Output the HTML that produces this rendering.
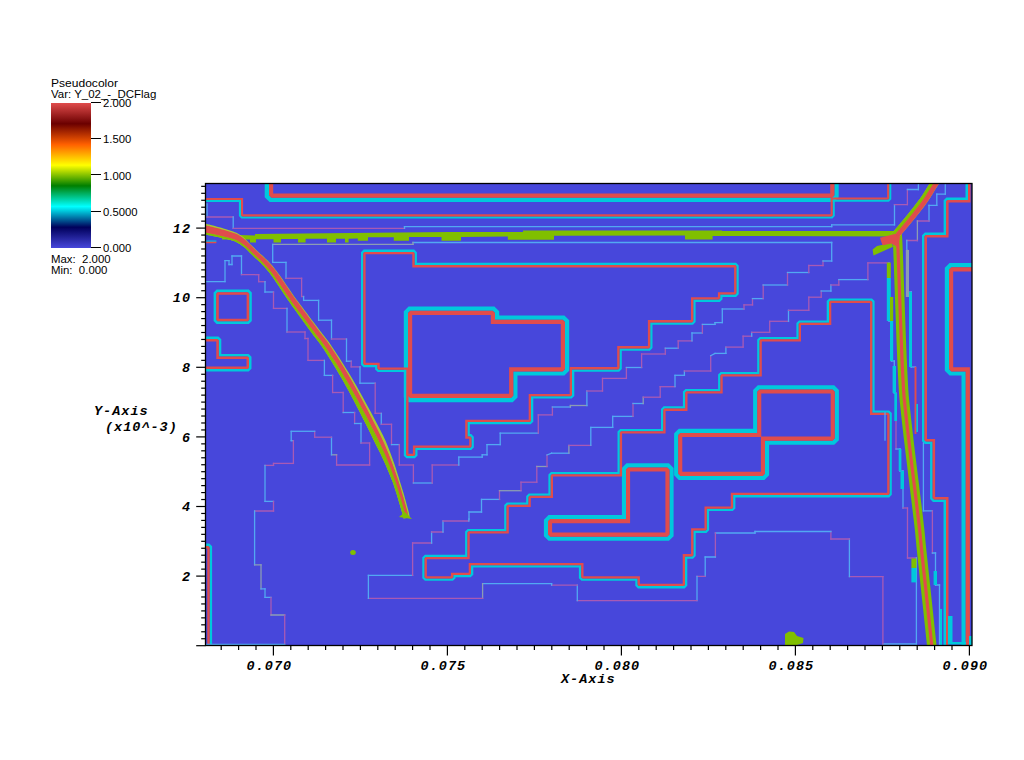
<!DOCTYPE html>
<html><head><meta charset="utf-8"><style>
html,body{margin:0;padding:0;background:#fff;}
body{width:1024px;height:760px;position:relative;overflow:hidden;}
.t{position:absolute;transform-origin:0 0;font-family:"Liberation Sans",sans-serif;font-size:10px;line-height:12px;color:#000;white-space:pre;}
.cbl{position:absolute;left:103.2px;transform-origin:0 0;transform:scaleX(1.13);font-family:"Liberation Sans",sans-serif;font-size:10px;line-height:12px;color:#000;white-space:pre;}
.cbt{position:absolute;left:90.7px;width:10px;height:1.2px;background:#000;}
.m{position:absolute;font-family:"Liberation Mono",monospace;font-weight:bold;font-style:italic;font-size:13.5px;letter-spacing:1.0px;line-height:16px;color:#000;white-space:pre;}
.yl{position:absolute;right:833px;font-family:"Liberation Mono",monospace;font-weight:bold;font-style:italic;font-size:13.5px;letter-spacing:1.0px;line-height:16px;color:#000;}
.xl{position:absolute;top:659px;font-family:"Liberation Mono",monospace;font-weight:bold;font-style:italic;font-size:13.5px;letter-spacing:1.0px;line-height:16px;color:#000;}
#cb{position:absolute;left:51px;top:103px;width:40px;height:145px;
background:linear-gradient(to top,rgb(71,71,219) 0%,rgb(0,0,91) 14.3%,rgb(0,255,255) 28.6%,rgb(0,127,0) 42.9%,rgb(255,255,0) 57.1%,rgb(255,96,0) 71.4%,rgb(107,0,0) 85.7%,rgb(224,76,76) 100%);}
svg{position:absolute;left:0;top:0;}
</style></head><body>
<div class="t" style="left:51px;top:77.6px;transform:scaleX(1.205)">Pseudocolor</div>
<div class="t" style="left:51px;top:89.1px;transform:scaleX(1.146)">Var: Y_02_-_DCFlag</div>
<div id="cb"></div>
<div class="cbl" style="top:97.8px">2.000</div><div class="cbt" style="top:101.6px"></div><div class="cbl" style="top:134.1px">1.500</div><div class="cbt" style="top:137.9px"></div><div class="cbl" style="top:170.5px">1.000</div><div class="cbt" style="top:174.3px"></div><div class="cbl" style="top:206.8px">0.5000</div><div class="cbt" style="top:210.6px"></div><div class="cbl" style="top:243.1px">0.000</div><div class="cbt" style="top:246.9px"></div>
<div class="t" style="left:51px;top:254px;transform:scaleX(1.14)">Max:  2.000</div>
<div class="t" style="left:51px;top:264.6px;transform:scaleX(1.14)">Min:  0.000</div>
<div class="yl" style="top:221.8px">12</div><div class="yl" style="top:291.3px">10</div><div class="yl" style="top:360.9px">8</div><div class="yl" style="top:430.5px">6</div><div class="yl" style="top:500.1px">4</div><div class="yl" style="top:569.8px">2</div><div class="xl" style="left:246.6px">0.070</div><div class="xl" style="left:420.6px">0.075</div><div class="xl" style="left:594.6px">0.080</div><div class="xl" style="left:768.6px">0.085</div><div class="xl" style="left:942.6px">0.090</div>
<div class="m" style="left:94px;top:403.7px">Y-Axis</div>
<div class="m" style="left:105px;top:420px">(x10^-3)</div>
<div class="m" style="left:561px;top:672px">X-Axis</div>
<svg width="1024" height="760">
<defs><clipPath id="pc"><rect x="205.5" y="183.5" width="766.5" height="462"/></clipPath></defs>
<g clip-path="url(#pc)">
<rect x="205" y="183" width="768" height="463" fill="#4747db"/>
<g fill="none" stroke-linecap="butt" stroke-linejoin="miter">
<path d="M222.00,234.50 L255.00,235.50 L255.00,234.00 L400.00,232.50 L450.00,232.00 L523.00,232.00 L523.00,230.50 L722.00,230.50 L722.00,231.00 L895.00,231.00 L895.00,236.40 L722.00,236.00 L712.60,236.00 L712.60,239.50 L685.00,239.50 L685.00,235.60 L554.00,235.80 L554.00,239.80 L507.80,239.80 L507.80,236.50 L461.00,237.00 L461.00,240.70 L441.50,240.70 L441.50,237.00 L409.00,237.00 L409.00,240.70 L393.80,240.70 L393.80,237.20 L368.00,237.20 L368.00,240.70 L357.80,240.70 L357.80,238.50 L348.60,238.70 L348.60,242.50 L345.00,242.50 L345.00,238.70 L336.00,238.70 L336.00,242.50 L327.00,242.50 L327.00,238.80 L305.60,238.80 L305.60,242.50 L298.00,242.50 L298.00,238.90 L281.00,239.00 L281.00,242.50 L273.50,242.50 L273.50,239.20 L256.00,239.30 L256.00,242.60 L250.00,242.60 L250.00,239.50 L222.00,239.50Z" fill="#80bf00" stroke="none"/>
<path d="M266.85,170.00 L266.85,196.25 L270.45,199.85 L832.95,199.85 L836.55,196.25 L836.55,170.00" stroke="#00c8dc" stroke-width="4.30"/>
<path d="M271.10,170.00 L271.10,194.49 L272.21,195.60 L831.19,195.60 L832.30,194.49 L832.30,170.00" stroke="#e04c4c" stroke-width="4.20"/>
<path d="M190.00,201.05 L239.95,201.05 L239.95,215.68 L241.72,217.45 L831.98,217.45 L833.75,215.68 L833.75,200.65 L888.48,200.65 L890.25,198.88 L890.25,170.00" stroke="#00c8dc" stroke-width="2.10"/>
<path d="M190.00,198.95 L242.05,198.95 L242.05,214.81 L242.59,215.35 L831.11,215.35 L831.65,214.81 L831.65,198.55 L887.61,198.55 L888.15,198.01 L888.15,170.00" stroke="#e04c4c" stroke-width="2.10"/>
<path d="M214.90,293.09 L217.09,290.90 L248.31,290.90 L250.50,293.09 L250.50,320.41 L248.31,322.60 L217.09,322.60 L214.90,320.41Z" stroke="#00c8dc" stroke-width="2.60"/>
<path d="M217.50,294.17 L218.17,293.50 L247.23,293.50 L247.90,294.17 L247.90,319.33 L247.23,320.00 L218.17,320.00 L217.50,319.33Z" stroke="#e04c4c" stroke-width="2.60"/>
<path d="M190.00,337.75 L217.94,337.75 L220.05,339.86 L220.05,355.25 L248.14,355.25 L250.25,357.36 L250.25,368.14 L248.14,370.25 L190.00,370.25" stroke="#00c8dc" stroke-width="2.50"/>
<path d="M190.00,340.25 L216.91,340.25 L217.55,340.89 L217.55,357.75 L247.11,357.75 L247.75,358.39 L247.75,367.11 L247.11,367.75 L190.00,367.75" stroke="#e04c4c" stroke-width="2.50"/>
<path d="M190.00,544.80 L208.88,544.80 L210.90,546.82 L210.90,660.00" stroke="#00c8dc" stroke-width="2.40"/>
<path d="M190.00,547.20 L207.88,547.20 L208.50,547.82 L208.50,660.00" stroke="#e04c4c" stroke-width="2.40"/>
<path d="M405.90,312.14 L409.44,308.60 L493.56,308.60 L497.10,312.14 L497.10,317.60 L563.56,317.60 L567.10,321.14 L567.10,369.96 L563.56,373.50 L515.40,373.50 L515.40,396.56 L511.86,400.10 L409.44,400.10 L405.90,396.56Z" stroke="#00c8dc" stroke-width="4.20"/>
<path d="M410.10,313.88 L411.18,312.80 L491.82,312.80 L492.90,313.88 L492.90,321.80 L561.82,321.80 L562.90,322.88 L562.90,368.22 L561.82,369.30 L511.20,369.30 L511.20,394.82 L510.12,395.90 L411.18,395.90 L410.10,394.82Z" stroke="#e04c4c" stroke-width="4.20"/>
<path d="M415.75,252.69 L413.81,250.75 L364.09,250.75 L362.15,252.69 L362.15,364.21 L364.09,366.15 L376.25,366.15 L376.25,369.01 L378.19,370.95 L405.15,370.95 L404.95,455.21 L406.89,457.15 L414.41,457.15 L416.35,455.21 L416.35,448.95 L470.71,448.95 L472.65,447.01 L472.65,437.19 L470.71,435.25 L468.65,435.25 L468.65,423.15 L530.21,423.15 L532.15,421.21 L532.15,397.35 L571.21,397.35 L573.15,395.41 L573.15,370.55 L618.71,370.55 L620.65,368.61 L620.65,349.55 L649.41,349.55 L651.35,347.61 L651.35,323.55 L692.51,323.55 L694.45,321.61 L694.45,300.75 L719.41,300.75 L721.35,298.81 L721.35,295.75 L735.61,295.75 L737.55,293.81 L737.55,265.89 L735.61,263.95 L415.75,263.95Z" stroke="#00c8dc" stroke-width="2.30"/>
<path d="M413.45,253.64 L412.86,253.05 L365.04,253.05 L364.45,253.64 L364.45,363.26 L365.04,363.85 L378.55,363.85 L378.55,368.06 L379.14,368.65 L407.45,368.65 L407.25,454.26 L407.84,454.85 L413.46,454.85 L414.05,454.26 L414.05,446.65 L469.76,446.65 L470.35,446.06 L470.35,438.14 L469.76,437.55 L466.35,437.55 L466.35,420.85 L529.26,420.85 L529.85,420.26 L529.85,395.05 L570.26,395.05 L570.85,394.46 L570.85,368.25 L617.76,368.25 L618.35,367.66 L618.35,347.25 L648.46,347.25 L649.05,346.66 L649.05,321.25 L691.56,321.25 L692.15,320.66 L692.15,298.45 L718.46,298.45 L719.05,297.86 L719.05,293.45 L734.66,293.45 L735.25,292.86 L735.25,266.84 L734.66,266.25 L413.45,266.25Z" stroke="#e04c4c" stroke-width="2.30"/>
<path d="M623.95,468.81 L627.41,465.35 L668.09,465.35 L671.55,468.81 L671.55,535.29 L668.09,538.75 L549.41,538.75 L545.95,535.29 L545.95,520.51 L549.41,517.05 L623.95,517.05Z" stroke="#00c8dc" stroke-width="4.10"/>
<path d="M628.05,470.50 L629.10,469.45 L666.40,469.45 L667.45,470.50 L667.45,533.60 L666.40,534.65 L551.10,534.65 L550.05,533.60 L550.05,522.20 L551.10,521.15 L628.05,521.15Z" stroke="#e04c4c" stroke-width="4.10"/>
<path d="M676.15,434.31 L679.61,430.85 L755.15,430.85 L755.15,390.81 L758.61,387.35 L833.39,387.35 L836.85,390.81 L836.85,439.29 L833.39,442.75 L767.05,442.75 L767.05,474.49 L763.59,477.95 L679.61,477.95 L676.15,474.49Z" stroke="#00c8dc" stroke-width="4.10"/>
<path d="M680.25,436.00 L681.30,434.95 L759.25,434.95 L759.25,392.50 L760.30,391.45 L831.70,391.45 L832.75,392.50 L832.75,437.60 L831.70,438.65 L762.95,438.65 L762.95,472.80 L761.90,473.85 L681.30,473.85 L680.25,472.80Z" stroke="#e04c4c" stroke-width="4.10"/>
<path d="M423.45,557.79 L425.39,555.85 L466.25,555.85 L466.25,531.99 L468.19,530.05 L505.35,530.05 L505.35,505.59 L507.29,503.65 L527.35,503.65 L527.35,496.59 L529.29,494.65 L549.55,494.65 L549.55,474.99 L551.49,473.05 L618.65,473.05 L618.65,432.09 L620.59,430.15 L662.15,430.15 L662.15,409.39 L664.09,407.45 L684.05,407.45 L684.05,392.09 L685.99,390.15 L719.25,390.15 L719.25,374.99 L721.19,373.05 L758.35,373.05 L758.35,340.09 L760.29,338.15 L797.55,338.15 L797.55,323.49 L799.49,321.55 L827.85,321.55 L827.85,301.59 L829.79,299.65 L871.51,299.65 L873.45,301.59 L873.45,411.65 L888.71,411.65 L890.65,413.59 L890.65,494.31 L888.71,496.25 L734.25,496.25 L734.25,508.01 L732.31,509.95 L707.95,509.95 L707.95,529.81 L706.01,531.75 L694.55,531.75 L694.55,555.61 L692.61,557.55 L686.15,557.55 L686.15,585.31 L684.21,587.25 L638.39,587.25 L636.45,585.31 L636.45,579.65 L581.99,579.65 L580.05,577.71 L580.05,566.35 L472.15,566.35 L472.15,574.21 L470.21,576.15 L454.45,576.15 L454.45,577.71 L452.51,579.65 L425.39,579.65 L423.45,577.71Z" stroke="#00c8dc" stroke-width="2.30"/>
<path d="M425.75,558.74 L426.34,558.15 L468.55,558.15 L468.55,532.94 L469.14,532.35 L507.65,532.35 L507.65,506.54 L508.24,505.95 L529.65,505.95 L529.65,497.54 L530.24,496.95 L551.85,496.95 L551.85,475.94 L552.44,475.35 L620.95,475.35 L620.95,433.04 L621.54,432.45 L664.45,432.45 L664.45,410.34 L665.04,409.75 L686.35,409.75 L686.35,393.04 L686.94,392.45 L721.55,392.45 L721.55,375.94 L722.14,375.35 L760.65,375.35 L760.65,341.04 L761.24,340.45 L799.85,340.45 L799.85,324.44 L800.44,323.85 L830.15,323.85 L830.15,302.54 L830.74,301.95 L870.56,301.95 L871.15,302.54 L871.15,413.95 L887.76,413.95 L888.35,414.54 L888.35,493.36 L887.76,493.95 L731.95,493.95 L731.95,507.06 L731.36,507.65 L705.65,507.65 L705.65,528.86 L705.06,529.45 L692.25,529.45 L692.25,554.66 L691.66,555.25 L683.85,555.25 L683.85,584.36 L683.26,584.95 L639.34,584.95 L638.75,584.36 L638.75,577.35 L582.94,577.35 L582.35,576.76 L582.35,564.05 L469.85,564.05 L469.85,573.26 L469.26,573.85 L452.15,573.85 L452.15,576.76 L451.56,577.35 L426.34,577.35 L425.75,576.76Z" stroke="#e04c4c" stroke-width="2.30"/>
<path d="M966.75,170.00 L966.75,198.75 L946.96,198.75 L944.85,200.86 L944.85,233.75 L925.36,233.75 L923.25,235.86 L923.25,440.64 L925.36,442.75 L931.35,442.75 L931.35,498.54 L933.46,500.65 L944.75,500.65 L944.75,660.00" stroke="#00c8dc" stroke-width="2.50"/>
<path d="M969.25,170.00 L969.25,201.25 L947.99,201.25 L947.35,201.89 L947.35,236.25 L926.39,236.25 L925.75,236.89 L925.75,439.61 L926.39,440.25 L933.85,440.25 L933.85,497.51 L934.49,498.15 L947.25,498.15 L947.25,660.00" stroke="#e04c4c" stroke-width="2.50"/>
<path d="M990.00,265.20 L950.44,265.20 L946.90,268.74 L946.90,369.96 L950.44,373.50 L963.60,373.50 L963.60,660.00" stroke="#00c8dc" stroke-width="4.20"/>
<path d="M990.00,269.40 L952.18,269.40 L951.10,270.48 L951.10,368.22 L952.18,369.30 L967.80,369.30 L967.80,660.00" stroke="#e04c4c" stroke-width="4.20"/>
<path d="M190.00,241.10 L216.40,241.10" stroke="#00c8dc" stroke-width="1.40"/>
<path d="M190.00,242.50 L216.40,242.50" stroke="#e04c4c" stroke-width="1.40"/>
<path d="M207.00,203.35 L207.00,217.65" stroke="#52a8f2" stroke-width="1.30"/>
<path d="M206.35,217.00 L233.85,217.00" stroke="#a85ab4" stroke-width="1.30"/>
<path d="M233.20,216.35 L233.20,229.05" stroke="#52a8f2" stroke-width="1.30"/>
<path d="M232.55,228.40 L405.15,228.40" stroke="#a85ab4" stroke-width="1.30"/>
<path d="M404.50,229.05 L404.50,225.95" stroke="#52a8f2" stroke-width="1.30"/>
<path d="M403.85,226.60 L832.35,226.60" stroke="#52a8f2" stroke-width="1.30"/>
<path d="M831.70,227.25 L831.70,224.15" stroke="#52a8f2" stroke-width="1.30"/>
<path d="M831.05,224.80 L895.15,224.80" stroke="#52a8f2" stroke-width="1.30"/>
<path d="M894.50,225.45 L894.50,204.05" stroke="#52a8f2" stroke-width="1.30"/>
<path d="M893.85,204.70 L908.05,204.70" stroke="#a85ab4" stroke-width="1.30"/>
<path d="M907.40,205.35 L907.40,188.85" stroke="#a85ab4" stroke-width="1.30"/>
<path d="M906.75,189.50 L919.05,189.50" stroke="#52a8f2" stroke-width="1.30"/>
<path d="M918.40,190.15 L918.40,179.35" stroke="#52a8f2" stroke-width="1.30"/>
<path d="M832.35,242.50 L412.35,242.50" stroke="#52a8f2" stroke-width="1.30"/>
<path d="M413.00,241.85 L413.00,245.05" stroke="#8c9cb4" stroke-width="1.30"/>
<path d="M413.65,244.40 L272.05,244.40" stroke="#8c9cb4" stroke-width="1.30"/>
<path d="M272.70,243.75 L272.70,263.05" stroke="#52a8f2" stroke-width="1.30"/>
<path d="M272.05,262.40 L286.65,262.40" stroke="#52a8f2" stroke-width="1.30"/>
<path d="M286.00,261.75 L286.00,278.95" stroke="#52a8f2" stroke-width="1.30"/>
<path d="M285.35,278.30 L302.25,278.30" stroke="#a85ab4" stroke-width="1.30"/>
<path d="M301.60,277.65 L301.60,297.15" stroke="#a85ab4" stroke-width="1.30"/>
<path d="M300.95,296.50 L304.25,296.50" stroke="#a85ab4" stroke-width="1.30"/>
<path d="M303.60,295.85 L303.60,301.05" stroke="#52a8f2" stroke-width="1.30"/>
<path d="M302.95,300.40 L319.25,300.40" stroke="#52a8f2" stroke-width="1.30"/>
<path d="M318.60,299.75 L318.60,320.85" stroke="#52a8f2" stroke-width="1.30"/>
<path d="M317.95,320.20 L332.15,320.20" stroke="#52a8f2" stroke-width="1.30"/>
<path d="M331.50,319.55 L331.50,339.65" stroke="#52a8f2" stroke-width="1.30"/>
<path d="M330.85,339.00 L347.15,339.00" stroke="#a85ab4" stroke-width="1.30"/>
<path d="M346.50,338.35 L346.50,361.85" stroke="#52a8f2" stroke-width="1.30"/>
<path d="M345.85,361.20 L351.85,361.20" stroke="#52a8f2" stroke-width="1.30"/>
<path d="M351.20,360.55 L351.20,367.55" stroke="#a85ab4" stroke-width="1.30"/>
<path d="M350.55,366.90 L360.65,366.90" stroke="#a85ab4" stroke-width="1.30"/>
<path d="M360.00,366.25 L360.00,383.85" stroke="#52a8f2" stroke-width="1.30"/>
<path d="M359.35,383.20 L375.85,383.20" stroke="#52a8f2" stroke-width="1.30"/>
<path d="M375.20,382.55 L375.20,413.95" stroke="#a85ab4" stroke-width="1.30"/>
<path d="M374.55,413.30 L381.95,413.30" stroke="#a85ab4" stroke-width="1.30"/>
<path d="M381.30,412.65 L381.30,424.95" stroke="#52a8f2" stroke-width="1.30"/>
<path d="M380.65,424.30 L392.15,424.30" stroke="#a85ab4" stroke-width="1.30"/>
<path d="M391.50,423.65 L391.50,445.25" stroke="#a85ab4" stroke-width="1.30"/>
<path d="M390.85,444.60 L399.95,444.60" stroke="#52a8f2" stroke-width="1.30"/>
<path d="M399.30,443.95 L399.30,465.65" stroke="#a85ab4" stroke-width="1.30"/>
<path d="M398.65,465.00 L414.05,465.00" stroke="#a85ab4" stroke-width="1.30"/>
<path d="M413.40,464.35 L413.40,483.65" stroke="#a85ab4" stroke-width="1.30"/>
<path d="M412.75,483.00 L432.85,483.00" stroke="#52a8f2" stroke-width="1.30"/>
<path d="M432.20,483.65 L432.20,464.35" stroke="#a85ab4" stroke-width="1.30"/>
<path d="M431.55,465.00 L459.45,465.00" stroke="#a85ab4" stroke-width="1.30"/>
<path d="M458.80,465.65 L458.80,456.45" stroke="#52a8f2" stroke-width="1.30"/>
<path d="M458.15,457.10 L482.85,457.10" stroke="#52a8f2" stroke-width="1.30"/>
<path d="M482.20,457.75 L482.20,454.15" stroke="#52a8f2" stroke-width="1.30"/>
<path d="M481.55,454.80 L487.65,454.80" stroke="#52a8f2" stroke-width="1.30"/>
<path d="M487.00,455.45 L487.00,443.95" stroke="#52a8f2" stroke-width="1.30"/>
<path d="M486.35,444.60 L500.85,444.60" stroke="#52a8f2" stroke-width="1.30"/>
<path d="M500.20,445.25 L500.20,432.55" stroke="#52a8f2" stroke-width="1.30"/>
<path d="M499.55,433.20 L538.95,433.20" stroke="#52a8f2" stroke-width="1.30"/>
<path d="M538.30,433.85 L538.30,414.25" stroke="#a85ab4" stroke-width="1.30"/>
<path d="M537.65,414.90 L553.05,414.90" stroke="#a85ab4" stroke-width="1.30"/>
<path d="M552.40,415.55 L552.40,406.35" stroke="#a85ab4" stroke-width="1.30"/>
<path d="M551.75,407.00 L571.05,407.00" stroke="#52a8f2" stroke-width="1.30"/>
<path d="M570.40,407.65 L570.40,404.85" stroke="#8c9cb4" stroke-width="1.30"/>
<path d="M569.75,405.50 L587.55,405.50" stroke="#8c9cb4" stroke-width="1.30"/>
<path d="M586.90,406.15 L586.90,390.35" stroke="#52a8f2" stroke-width="1.30"/>
<path d="M586.25,391.00 L603.15,391.00" stroke="#a85ab4" stroke-width="1.30"/>
<path d="M602.50,391.65 L602.50,377.75" stroke="#a85ab4" stroke-width="1.30"/>
<path d="M601.85,378.40 L627.05,378.40" stroke="#a85ab4" stroke-width="1.30"/>
<path d="M626.40,379.05 L626.40,366.85" stroke="#a85ab4" stroke-width="1.30"/>
<path d="M625.75,367.50 L642.25,367.50" stroke="#52a8f2" stroke-width="1.30"/>
<path d="M641.60,368.15 L641.60,353.35" stroke="#a85ab4" stroke-width="1.30"/>
<path d="M640.95,354.00 L665.95,354.00" stroke="#a85ab4" stroke-width="1.30"/>
<path d="M665.30,354.65 L665.30,347.55" stroke="#a85ab4" stroke-width="1.30"/>
<path d="M664.65,348.20 L678.85,348.20" stroke="#52a8f2" stroke-width="1.30"/>
<path d="M678.20,348.85 L678.20,340.25" stroke="#a85ab4" stroke-width="1.30"/>
<path d="M677.55,340.90 L692.65,340.90" stroke="#a85ab4" stroke-width="1.30"/>
<path d="M692.00,341.55 L692.00,332.35" stroke="#52a8f2" stroke-width="1.30"/>
<path d="M691.35,333.00 L703.05,333.00" stroke="#52a8f2" stroke-width="1.30"/>
<path d="M702.40,333.65 L702.40,323.75" stroke="#a85ab4" stroke-width="1.30"/>
<path d="M701.75,324.40 L715.65,324.40" stroke="#52a8f2" stroke-width="1.30"/>
<path d="M715.00,325.05 L715.00,321.95" stroke="#52a8f2" stroke-width="1.30"/>
<path d="M714.35,322.60 L722.95,322.60" stroke="#52a8f2" stroke-width="1.30"/>
<path d="M722.30,323.25 L722.30,308.35" stroke="#52a8f2" stroke-width="1.30"/>
<path d="M721.65,309.00 L744.65,309.00" stroke="#52a8f2" stroke-width="1.30"/>
<path d="M744.00,309.65 L744.00,304.25" stroke="#a85ab4" stroke-width="1.30"/>
<path d="M743.35,304.90 L753.15,304.90" stroke="#a85ab4" stroke-width="1.30"/>
<path d="M752.50,305.55 L752.50,297.95" stroke="#a85ab4" stroke-width="1.30"/>
<path d="M751.85,298.60 L763.85,298.60" stroke="#52a8f2" stroke-width="1.30"/>
<path d="M763.20,299.25 L763.20,284.35" stroke="#a85ab4" stroke-width="1.30"/>
<path d="M762.55,285.00 L788.15,285.00" stroke="#52a8f2" stroke-width="1.30"/>
<path d="M787.50,285.65 L787.50,271.85" stroke="#a85ab4" stroke-width="1.30"/>
<path d="M786.85,272.50 L809.45,272.50" stroke="#52a8f2" stroke-width="1.30"/>
<path d="M808.80,273.15 L808.80,264.85" stroke="#a85ab4" stroke-width="1.30"/>
<path d="M808.15,265.50 L823.65,265.50" stroke="#a85ab4" stroke-width="1.30"/>
<path d="M823.00,266.15 L823.00,260.35" stroke="#a85ab4" stroke-width="1.30"/>
<path d="M822.35,261.00 L832.35,261.00" stroke="#52a8f2" stroke-width="1.30"/>
<path d="M831.70,261.65 L831.70,241.85" stroke="#52a8f2" stroke-width="1.30"/>
<path d="M205.35,281.70 L225.65,281.70" stroke="#52a8f2" stroke-width="1.30"/>
<path d="M225.00,282.35 L225.00,259.95" stroke="#52a8f2" stroke-width="1.30"/>
<path d="M224.35,260.60 L229.65,260.60" stroke="#52a8f2" stroke-width="1.30"/>
<path d="M229.00,259.95 L229.00,265.15" stroke="#52a8f2" stroke-width="1.30"/>
<path d="M228.35,264.50 L232.65,264.50" stroke="#52a8f2" stroke-width="1.30"/>
<path d="M232.00,265.15 L232.00,255.35" stroke="#52a8f2" stroke-width="1.30"/>
<path d="M231.35,256.00 L242.15,256.00" stroke="#52a8f2" stroke-width="1.30"/>
<path d="M241.50,255.35 L241.50,275.35" stroke="#52a8f2" stroke-width="1.30"/>
<path d="M240.85,274.70 L259.35,274.70" stroke="#a85ab4" stroke-width="1.30"/>
<path d="M258.70,274.05 L258.70,282.35" stroke="#a85ab4" stroke-width="1.30"/>
<path d="M258.05,281.70 L265.65,281.70" stroke="#a85ab4" stroke-width="1.30"/>
<path d="M265.00,281.05 L265.00,292.65" stroke="#52a8f2" stroke-width="1.30"/>
<path d="M264.35,292.00 L274.15,292.00" stroke="#52a8f2" stroke-width="1.30"/>
<path d="M273.50,291.35 L273.50,309.05" stroke="#a85ab4" stroke-width="1.30"/>
<path d="M272.85,308.40 L287.65,308.40" stroke="#a85ab4" stroke-width="1.30"/>
<path d="M287.00,307.75 L287.00,332.65" stroke="#52a8f2" stroke-width="1.30"/>
<path d="M286.35,332.00 L305.65,332.00" stroke="#a85ab4" stroke-width="1.30"/>
<path d="M305.00,331.35 L305.00,339.15" stroke="#a85ab4" stroke-width="1.30"/>
<path d="M304.35,338.50 L308.65,338.50" stroke="#a85ab4" stroke-width="1.30"/>
<path d="M308.00,337.85 L308.00,361.05" stroke="#a85ab4" stroke-width="1.30"/>
<path d="M307.35,360.40 L325.05,360.40" stroke="#a85ab4" stroke-width="1.30"/>
<path d="M324.40,359.75 L324.40,376.05" stroke="#52a8f2" stroke-width="1.30"/>
<path d="M323.75,375.40 L333.25,375.40" stroke="#52a8f2" stroke-width="1.30"/>
<path d="M332.60,374.75 L332.60,393.15" stroke="#a85ab4" stroke-width="1.30"/>
<path d="M331.95,392.50 L343.85,392.50" stroke="#a85ab4" stroke-width="1.30"/>
<path d="M343.20,391.85 L343.20,413.15" stroke="#a85ab4" stroke-width="1.30"/>
<path d="M342.55,412.50 L355.25,412.50" stroke="#52a8f2" stroke-width="1.30"/>
<path d="M354.60,411.85 L354.60,424.15" stroke="#a85ab4" stroke-width="1.30"/>
<path d="M353.95,423.50 L361.65,423.50" stroke="#52a8f2" stroke-width="1.30"/>
<path d="M361.00,422.85 L361.00,443.65" stroke="#52a8f2" stroke-width="1.30"/>
<path d="M360.35,443.00 L370.25,443.00" stroke="#a85ab4" stroke-width="1.30"/>
<path d="M369.60,442.35 L369.60,465.65" stroke="#a85ab4" stroke-width="1.30"/>
<path d="M370.25,465.00 L335.95,465.00" stroke="#a85ab4" stroke-width="1.30"/>
<path d="M336.60,465.65 L336.60,454.15" stroke="#a85ab4" stroke-width="1.30"/>
<path d="M337.25,454.80 L330.85,454.80" stroke="#8c9cb4" stroke-width="1.30"/>
<path d="M331.50,455.45 L331.50,436.55" stroke="#52a8f2" stroke-width="1.30"/>
<path d="M332.15,437.20 L314.05,437.20" stroke="#a85ab4" stroke-width="1.30"/>
<path d="M314.70,437.85 L314.70,430.65" stroke="#a85ab4" stroke-width="1.30"/>
<path d="M315.35,431.30 L290.55,431.30" stroke="#52a8f2" stroke-width="1.30"/>
<path d="M291.20,430.65 L291.20,441.35" stroke="#52a8f2" stroke-width="1.30"/>
<path d="M290.55,440.70 L294.05,440.70" stroke="#52a8f2" stroke-width="1.30"/>
<path d="M293.40,440.05 L293.40,464.05" stroke="#a85ab4" stroke-width="1.30"/>
<path d="M294.05,463.40 L272.85,463.40" stroke="#a85ab4" stroke-width="1.30"/>
<path d="M273.50,462.75 L273.50,466.05" stroke="#a85ab4" stroke-width="1.30"/>
<path d="M274.15,465.40 L264.35,465.40" stroke="#a85ab4" stroke-width="1.30"/>
<path d="M265.00,464.75 L265.00,502.05" stroke="#52a8f2" stroke-width="1.30"/>
<path d="M264.35,501.40 L274.15,501.40" stroke="#52a8f2" stroke-width="1.30"/>
<path d="M273.50,500.75 L273.50,511.65" stroke="#a85ab4" stroke-width="1.30"/>
<path d="M274.15,511.00 L253.95,511.00" stroke="#a85ab4" stroke-width="1.30"/>
<path d="M254.60,510.35 L254.60,565.45" stroke="#52a8f2" stroke-width="1.30"/>
<path d="M253.95,564.80 L261.65,564.80" stroke="#8c9cb4" stroke-width="1.30"/>
<path d="M261.00,564.15 L261.00,589.45" stroke="#8c9cb4" stroke-width="1.30"/>
<path d="M260.35,588.80 L265.65,588.80" stroke="#52a8f2" stroke-width="1.30"/>
<path d="M265.00,588.15 L265.00,597.95" stroke="#52a8f2" stroke-width="1.30"/>
<path d="M264.35,597.30 L271.65,597.30" stroke="#52a8f2" stroke-width="1.30"/>
<path d="M271.00,596.65 L271.00,615.65" stroke="#a85ab4" stroke-width="1.30"/>
<path d="M270.35,615.00 L285.35,615.00" stroke="#8c9cb4" stroke-width="1.30"/>
<path d="M284.70,614.35 L284.70,644.95" stroke="#a85ab4" stroke-width="1.30"/>
<path d="M285.35,644.30 L205.35,644.30" stroke="#52a8f2" stroke-width="1.30"/>
<path d="M469.00,519.65 L469.00,511.35" stroke="#52a8f2" stroke-width="1.30"/>
<path d="M468.35,512.00 L482.15,512.00" stroke="#52a8f2" stroke-width="1.30"/>
<path d="M481.50,512.65 L481.50,498.75" stroke="#52a8f2" stroke-width="1.30"/>
<path d="M480.85,499.40 L500.15,499.40" stroke="#52a8f2" stroke-width="1.30"/>
<path d="M499.50,500.05 L499.50,490.05" stroke="#a85ab4" stroke-width="1.30"/>
<path d="M498.85,490.70 L521.65,490.70" stroke="#8c9cb4" stroke-width="1.30"/>
<path d="M521.00,491.35 L521.00,481.55" stroke="#a85ab4" stroke-width="1.30"/>
<path d="M520.35,482.20 L537.45,482.20" stroke="#a85ab4" stroke-width="1.30"/>
<path d="M536.80,482.85 L536.80,465.85" stroke="#a85ab4" stroke-width="1.30"/>
<path d="M536.15,466.50 L547.65,466.50" stroke="#8c9cb4" stroke-width="1.30"/>
<path d="M547.00,467.15 L547.00,454.35" stroke="#a85ab4" stroke-width="1.30"/>
<path d="M546.39,455.24 L552.21,452.96" stroke="#52a8f2" stroke-width="1.30"/>
<path d="M550.95,453.20 L569.55,453.20" stroke="#52a8f2" stroke-width="1.30"/>
<path d="M568.90,453.85 L568.90,444.75" stroke="#8c9cb4" stroke-width="1.30"/>
<path d="M568.25,445.40 L591.45,445.40" stroke="#a85ab4" stroke-width="1.30"/>
<path d="M590.80,446.05 L590.80,426.75" stroke="#52a8f2" stroke-width="1.30"/>
<path d="M590.15,427.40 L613.35,427.40" stroke="#52a8f2" stroke-width="1.30"/>
<path d="M612.70,428.05 L612.70,415.75" stroke="#52a8f2" stroke-width="1.30"/>
<path d="M612.05,416.40 L633.65,416.40" stroke="#52a8f2" stroke-width="1.30"/>
<path d="M633.00,417.05 L633.00,402.85" stroke="#a85ab4" stroke-width="1.30"/>
<path d="M632.35,403.50 L643.85,403.50" stroke="#52a8f2" stroke-width="1.30"/>
<path d="M643.20,404.15 L643.20,396.55" stroke="#8c9cb4" stroke-width="1.30"/>
<path d="M642.55,397.20 L660.85,397.20" stroke="#a85ab4" stroke-width="1.30"/>
<path d="M660.20,397.85 L660.20,386.05" stroke="#a85ab4" stroke-width="1.30"/>
<path d="M659.55,386.70 L675.65,386.70" stroke="#a85ab4" stroke-width="1.30"/>
<path d="M675.00,387.35 L675.00,374.65" stroke="#52a8f2" stroke-width="1.30"/>
<path d="M674.35,375.30 L685.05,375.30" stroke="#52a8f2" stroke-width="1.30"/>
<path d="M684.40,375.95 L684.40,370.35" stroke="#52a8f2" stroke-width="1.30"/>
<path d="M683.75,371.00 L711.35,371.00" stroke="#a85ab4" stroke-width="1.30"/>
<path d="M710.70,371.65 L710.70,355.05" stroke="#a85ab4" stroke-width="1.30"/>
<path d="M710.13,356.01 L715.57,353.09" stroke="#52a8f2" stroke-width="1.30"/>
<path d="M714.35,353.40 L726.55,353.40" stroke="#52a8f2" stroke-width="1.30"/>
<path d="M725.90,354.05 L725.90,346.45" stroke="#52a8f2" stroke-width="1.30"/>
<path d="M725.25,347.10 L743.75,347.10" stroke="#a85ab4" stroke-width="1.30"/>
<path d="M743.10,347.75 L743.10,335.55" stroke="#a85ab4" stroke-width="1.30"/>
<path d="M742.45,336.20 L752.35,336.20" stroke="#a85ab4" stroke-width="1.30"/>
<path d="M751.70,336.85 L751.70,331.65" stroke="#52a8f2" stroke-width="1.30"/>
<path d="M751.05,332.30 L770.35,332.30" stroke="#a85ab4" stroke-width="1.30"/>
<path d="M769.70,332.95 L769.70,320.65" stroke="#a85ab4" stroke-width="1.30"/>
<path d="M769.05,321.30 L789.15,321.30" stroke="#a85ab4" stroke-width="1.30"/>
<path d="M788.50,321.95 L788.50,309.65" stroke="#52a8f2" stroke-width="1.30"/>
<path d="M787.85,310.30 L809.45,310.30" stroke="#a85ab4" stroke-width="1.30"/>
<path d="M808.80,310.95 L808.80,296.55" stroke="#a85ab4" stroke-width="1.30"/>
<path d="M808.15,297.20 L821.85,297.20" stroke="#a85ab4" stroke-width="1.30"/>
<path d="M821.20,297.85 L821.20,290.35" stroke="#a85ab4" stroke-width="1.30"/>
<path d="M820.55,291.00 L831.55,291.00" stroke="#52a8f2" stroke-width="1.30"/>
<path d="M830.90,291.65 L830.90,284.35" stroke="#52a8f2" stroke-width="1.30"/>
<path d="M830.25,285.00 L839.45,285.00" stroke="#a85ab4" stroke-width="1.30"/>
<path d="M838.80,285.65 L838.80,278.95" stroke="#a85ab4" stroke-width="1.30"/>
<path d="M838.15,279.60 L868.55,279.60" stroke="#52a8f2" stroke-width="1.30"/>
<path d="M867.90,280.25 L867.90,262.25" stroke="#a85ab4" stroke-width="1.30"/>
<path d="M867.25,262.90 L889.65,262.90" stroke="#a85ab4" stroke-width="1.30"/>
<path d="M889.00,262.25 L889.00,321.65" stroke="#52a8f2" stroke-width="1.30"/>
<path d="M888.35,321.00 L892.15,321.00" stroke="#52a8f2" stroke-width="1.30"/>
<path d="M891.50,320.35 L891.50,361.65" stroke="#52a8f2" stroke-width="1.30"/>
<path d="M890.85,361.00 L894.95,361.00" stroke="#52a8f2" stroke-width="1.30"/>
<path d="M894.30,360.35 L894.30,393.65" stroke="#52a8f2" stroke-width="1.30"/>
<path d="M893.65,393.00 L896.65,393.00" stroke="#52a8f2" stroke-width="1.30"/>
<path d="M896.00,392.35 L896.00,449.65" stroke="#a85ab4" stroke-width="1.30"/>
<path d="M895.35,449.00 L900.65,449.00" stroke="#52a8f2" stroke-width="1.30"/>
<path d="M900.00,448.35 L900.00,471.65" stroke="#52a8f2" stroke-width="1.30"/>
<path d="M899.35,471.00 L903.65,471.00" stroke="#52a8f2" stroke-width="1.30"/>
<path d="M903.00,470.35 L903.00,508.65" stroke="#52a8f2" stroke-width="1.30"/>
<path d="M902.35,508.00 L908.15,508.00" stroke="#a85ab4" stroke-width="1.30"/>
<path d="M907.50,507.35 L907.50,558.65" stroke="#a85ab4" stroke-width="1.30"/>
<path d="M906.85,558.00 L917.05,558.00" stroke="#a85ab4" stroke-width="1.30"/>
<path d="M916.40,557.35 L916.40,644.65" stroke="#52a8f2" stroke-width="1.30"/>
<path d="M917.05,644.00 L882.25,644.00" stroke="#52a8f2" stroke-width="1.30"/>
<path d="M882.90,644.65 L882.90,576.05" stroke="#a85ab4" stroke-width="1.30"/>
<path d="M883.55,576.70 L848.75,576.70" stroke="#a85ab4" stroke-width="1.30"/>
<path d="M849.40,577.35 L849.40,538.35" stroke="#52a8f2" stroke-width="1.30"/>
<path d="M850.05,539.00 L830.25,539.00" stroke="#a85ab4" stroke-width="1.30"/>
<path d="M830.90,539.65 L830.90,530.85" stroke="#a85ab4" stroke-width="1.30"/>
<path d="M831.55,531.50 L754.35,531.50" stroke="#52a8f2" stroke-width="1.30"/>
<path d="M755.00,530.85 L755.00,533.65" stroke="#52a8f2" stroke-width="1.30"/>
<path d="M755.65,533.00 L714.75,533.00" stroke="#52a8f2" stroke-width="1.30"/>
<path d="M715.40,532.35 L715.40,557.65" stroke="#a85ab4" stroke-width="1.30"/>
<path d="M716.05,557.00 L704.55,557.00" stroke="#52a8f2" stroke-width="1.30"/>
<path d="M705.20,556.35 L705.20,576.95" stroke="#52a8f2" stroke-width="1.30"/>
<path d="M705.85,576.30 L696.35,576.30" stroke="#a85ab4" stroke-width="1.30"/>
<path d="M697.00,575.65 L697.00,601.25" stroke="#52a8f2" stroke-width="1.30"/>
<path d="M697.65,600.60 L576.65,600.60" stroke="#a85ab4" stroke-width="1.30"/>
<path d="M577.30,601.25 L577.30,584.45" stroke="#52a8f2" stroke-width="1.30"/>
<path d="M577.95,585.10 L550.95,585.10" stroke="#a85ab4" stroke-width="1.30"/>
<path d="M551.60,585.75 L551.60,583.05" stroke="#52a8f2" stroke-width="1.30"/>
<path d="M552.25,583.70 L481.95,583.70" stroke="#52a8f2" stroke-width="1.30"/>
<path d="M482.60,583.05 L482.60,599.05" stroke="#8c9cb4" stroke-width="1.30"/>
<path d="M483.25,598.40 L367.75,598.40" stroke="#a85ab4" stroke-width="1.30"/>
<path d="M368.40,599.05 L368.40,574.75" stroke="#52a8f2" stroke-width="1.30"/>
<path d="M367.75,575.40 L413.25,575.40" stroke="#52a8f2" stroke-width="1.30"/>
<path d="M412.60,576.05 L412.60,542.35" stroke="#a85ab4" stroke-width="1.30"/>
<path d="M411.95,543.00 L432.25,543.00" stroke="#a85ab4" stroke-width="1.30"/>
<path d="M431.60,543.65 L431.60,531.35" stroke="#52a8f2" stroke-width="1.30"/>
<path d="M430.95,532.00 L443.65,532.00" stroke="#a85ab4" stroke-width="1.30"/>
<path d="M443.00,532.65 L443.00,520.35" stroke="#52a8f2" stroke-width="1.30"/>
<path d="M442.35,521.00 L469.45,521.00" stroke="#a85ab4" stroke-width="1.30"/>
<path d="M468.74,521.65 L469.06,518.35" stroke="#52a8f2" stroke-width="1.30"/>
<path d="M945.30,179.35 L945.30,194.85" stroke="#52a8f2" stroke-width="1.30"/>
<path d="M945.95,194.20 L936.15,194.20" stroke="#52a8f2" stroke-width="1.30"/>
<path d="M936.80,193.55 L936.80,205.95" stroke="#52a8f2" stroke-width="1.30"/>
<path d="M937.45,205.30 L928.35,205.30" stroke="#52a8f2" stroke-width="1.30"/>
<path d="M929.00,204.65 L929.00,221.65" stroke="#52a8f2" stroke-width="1.30"/>
<path d="M929.65,221.00 L916.75,221.00" stroke="#a85ab4" stroke-width="1.30"/>
<path d="M917.40,220.35 L917.40,241.15" stroke="#8c9cb4" stroke-width="1.30"/>
<path d="M918.05,240.50 L906.15,240.50" stroke="#a85ab4" stroke-width="1.30"/>
<path d="M906.80,239.85 L906.80,251.15" stroke="#52a8f2" stroke-width="1.30"/>
<path d="M906.15,250.50 L908.15,250.50" stroke="#a85ab4" stroke-width="1.30"/>
<path d="M907.50,249.85 L907.50,292.65" stroke="#52a8f2" stroke-width="1.30"/>
<path d="M906.85,292.00 L911.85,292.00" stroke="#52a8f2" stroke-width="1.30"/>
<path d="M911.20,291.35 L911.20,367.65" stroke="#52a8f2" stroke-width="1.30"/>
<path d="M910.55,367.00 L916.15,367.00" stroke="#52a8f2" stroke-width="1.30"/>
<path d="M915.50,366.35 L915.50,432.65" stroke="#a85ab4" stroke-width="1.30"/>
<path d="M885.00,412.35 L885.00,440.65" stroke="#52a8f2" stroke-width="1.30"/>
<path d="M923.40,442.35 L923.40,511.45" stroke="#52a8f2" stroke-width="1.30"/>
<path d="M922.75,510.80 L933.05,510.80" stroke="#52a8f2" stroke-width="1.30"/>
<path d="M932.40,510.15 L932.40,553.65" stroke="#a85ab4" stroke-width="1.30"/>
<path d="M931.75,553.00 L936.15,553.00" stroke="#52a8f2" stroke-width="1.30"/>
<path d="M935.50,552.35 L935.50,585.65" stroke="#52a8f2" stroke-width="1.30"/>
<path d="M934.85,585.00 L940.15,585.00" stroke="#52a8f2" stroke-width="1.30"/>
<path d="M939.50,584.35 L939.50,650.65" stroke="#52a8f2" stroke-width="1.30"/>
<rect x="886.8" y="278.0" width="4.0" height="43.0" fill="#00c8dc"/>
<rect x="886.8" y="262.6" width="4.0" height="15.4" fill="#80bf00"/>
<rect x="890.0" y="321.0" width="3.2" height="40.0" fill="#00c8dc"/>
<rect x="890.0" y="297.0" width="3.2" height="24.0" fill="#80bf00"/>
<rect x="892.6" y="366.0" width="3.4" height="27.0" fill="#00c8dc"/>
<rect x="894.3" y="393.0" width="2.7" height="28.0" fill="#00c8dc"/>
<rect x="898.7" y="449.0" width="2.7" height="22.0" fill="#00c8dc"/>
<rect x="900.5" y="471.0" width="3.5" height="18.0" fill="#00c8dc"/>
<rect x="911.4" y="568.0" width="5.1" height="14.4" fill="#00c8dc"/>
<rect x="911.4" y="558.5" width="5.1" height="9.5" fill="#80bf00"/>
<rect x="905.8" y="250.0" width="3.2" height="47.0" fill="#8c9cb4"/>
<rect x="909.0" y="292.0" width="3.0" height="75.0" fill="#00c8dc"/>
<rect x="914.6" y="367.0" width="1.8" height="67.0" fill="#e04c4c"/>
<rect x="916.4" y="404.0" width="1.6" height="28.0" fill="#00c8dc"/>
<rect x="933.6" y="571.0" width="3.4" height="14.0" fill="#00c8dc"/>
<rect x="940.0" y="609.0" width="2.0" height="36.0" fill="#00c8dc"/>
<rect x="969.0" y="636.0" width="3.0" height="9.0" fill="#00c8dc"/>
<rect x="948.0" y="642.0" width="18.0" height="2.5" fill="#00c8dc"/>
<path d="M201.29,222.45 L201.53,222.51 L201.76,222.57 L201.99,222.62 L202.27,222.70 L202.60,222.79 L203.03,222.91 L203.58,223.07 L204.28,223.26 L205.16,223.50 L206.22,223.80 L207.52,224.15 L209.10,224.56 L210.90,225.03 L212.87,225.54 L214.95,226.08 L217.10,226.65 L219.25,227.24 L221.37,227.84 L223.40,228.45 L225.24,229.04 L226.88,229.58 L228.45,230.06 L230.02,230.54 L231.60,231.03 L233.20,231.56 L234.83,232.17 L236.47,232.87 L238.14,233.70 L239.81,234.68 L241.49,235.82 L243.13,237.11 L244.72,238.53 L246.25,240.03 L247.74,241.62 L249.24,243.23 L250.85,244.75 L252.46,246.29 L254.06,247.85 L255.67,249.40 L257.27,250.93 L258.87,252.42 L260.47,253.88 L262.07,255.35 L263.70,256.85 L265.36,258.41 L267.05,260.06 L268.79,261.83 L270.57,263.75 L272.42,265.84 L274.33,268.14 L276.31,270.67 L278.34,273.40 L280.42,276.31 L282.53,279.34 L284.68,282.46 L286.84,285.64 L289.01,288.84 L291.19,292.01 L293.36,295.13 L295.51,298.15 L297.72,301.15 L300.00,304.23 L302.33,307.35 L304.68,310.49 L307.03,313.60 L309.35,316.67 L311.61,319.66 L313.79,322.54 L315.86,325.29 L317.79,327.86 L319.53,330.14 L321.07,332.11 L322.48,333.88 L323.81,335.55 L325.12,337.19 L326.46,338.90 L327.85,340.74 L329.35,342.80 L331.00,345.16 L332.84,347.89 L334.84,350.92 L336.95,354.14 L339.16,357.55 L341.47,361.15 L343.87,364.94 L346.33,368.89 L348.86,373.02 L351.43,377.31 L354.05,381.76 L356.69,386.35 L359.46,391.25 L362.40,396.55 L365.48,402.16 L368.63,407.96 L371.79,413.85 L374.91,419.73 L377.92,425.49 L380.78,431.04 L383.43,436.25 L385.63,441.12 L387.50,445.60 L389.18,449.77 L390.70,453.68 L392.07,457.38 L393.32,460.90 L394.48,464.30 L395.58,467.62 L396.63,470.91 L397.67,474.21 L398.73,477.60 L399.81,481.14 L400.97,484.76 L402.10,488.42 L403.19,492.05 L404.22,495.61 L405.19,499.02 L406.08,502.21 L406.88,505.14 L407.59,507.72 L408.20,509.90 L408.68,511.69 L409.05,513.14 L409.25,514.31 L409.37,515.24 L409.45,515.98 L409.48,516.57 L409.48,517.02 L409.47,517.25 L409.45,517.31 L409.46,517.51 L403.54,518.49 L403.45,518.06 L403.39,517.58 L403.36,517.28 L403.32,517.08 L403.27,516.82 L403.15,516.38 L402.95,515.71 L402.65,514.74 L402.29,513.42 L401.80,511.70 L401.17,509.53 L400.43,506.95 L399.60,504.05 L398.68,500.89 L397.68,497.53 L396.62,494.03 L395.51,490.46 L394.36,486.89 L393.18,483.37 L391.87,480.00 L390.57,476.75 L389.28,473.56 L387.99,470.41 L386.67,467.26 L385.29,464.05 L383.81,460.74 L382.22,457.27 L380.46,453.61 L378.53,449.69 L376.37,445.48 L374.01,440.81 L371.52,435.61 L368.82,430.07 L365.95,424.29 L362.99,418.39 L359.98,412.47 L356.98,406.65 L354.05,401.02 L351.25,395.70 L348.63,390.80 L346.12,386.23 L343.65,381.80 L341.20,377.52 L338.80,373.40 L336.46,369.45 L334.18,365.67 L331.97,362.07 L329.84,358.65 L327.82,355.43 L325.90,352.41 L324.17,349.74 L322.64,347.48 L321.27,345.51 L319.99,343.76 L318.75,342.11 L317.50,340.49 L316.19,338.80 L314.78,336.96 L313.22,334.89 L311.48,332.53 L309.59,329.91 L307.57,327.14 L305.44,324.22 L303.23,321.19 L300.96,318.08 L298.66,314.91 L296.36,311.72 L294.07,308.54 L291.82,305.40 L289.64,302.32 L287.49,299.21 L285.32,296.01 L283.17,292.78 L281.03,289.54 L278.92,286.34 L276.84,283.22 L274.81,280.22 L272.83,277.37 L270.92,274.73 L269.09,272.32 L267.33,270.16 L265.63,268.18 L263.98,266.37 L262.38,264.69 L260.80,263.11 L259.23,261.60 L257.66,260.12 L256.07,258.65 L254.47,257.14 L252.84,255.59 L251.20,253.99 L249.60,252.41 L248.02,250.84 L246.47,249.31 L244.94,247.84 L243.33,246.56 L241.74,245.38 L240.20,244.32 L238.71,243.38 L237.27,242.57 L235.90,241.89 L234.58,241.33 L233.27,240.85 L231.96,240.43 L230.61,240.05 L229.19,239.70 L227.70,239.35 L226.12,238.99 L224.43,238.60 L222.70,238.18 L220.91,237.74 L218.99,237.31 L216.94,236.87 L214.83,236.43 L212.71,236.00 L210.63,235.59 L208.64,235.21 L206.81,234.85 L205.16,234.52 L203.77,234.24 L202.66,234.01 L201.76,233.82 L201.04,233.67 L200.47,233.55 L200.02,233.45 L199.67,233.38 L199.39,233.31 L199.15,233.25 L198.94,233.20 L198.71,233.15Z" fill="#a8c830" stroke="none"/>
<path d="M199.18,231.20 L199.41,231.26 L199.63,231.31 L199.86,231.37 L200.14,231.43 L200.49,231.51 L200.94,231.61 L201.51,231.73 L202.22,231.88 L203.12,232.07 L204.22,232.31 L205.60,232.60 L207.24,232.93 L209.07,233.29 L211.05,233.69 L213.14,234.10 L215.27,234.54 L217.39,234.99 L219.46,235.44 L221.40,235.89 L223.21,236.34 L224.93,236.77 L226.60,237.17 L228.18,237.54 L229.69,237.90 L231.15,238.27 L232.57,238.68 L233.96,239.14 L235.35,239.67 L236.77,240.29 L238.23,241.04 L239.74,241.92 L241.29,242.93 L242.87,244.05 L244.48,245.27 L246.10,246.60 L247.65,248.08 L249.22,249.61 L250.81,251.17 L252.41,252.75 L254.04,254.32 L255.66,255.86 L257.27,257.35 L258.86,258.82 L260.45,260.31 L262.04,261.83 L263.65,263.43 L265.29,265.13 L266.98,266.97 L268.72,268.98 L270.52,271.18 L272.40,273.62 L274.34,276.28 L276.35,279.14 L278.41,282.15 L280.51,285.27 L282.64,288.47 L284.79,291.69 L286.95,294.91 L289.11,298.08 L291.27,301.16 L293.48,304.20 L295.76,307.31 L298.09,310.46 L300.43,313.62 L302.76,316.75 L305.06,319.83 L307.31,322.84 L309.47,325.73 L311.53,328.48 L313.45,331.07 L315.20,333.40 L316.77,335.42 L318.19,337.24 L319.52,338.91 L320.80,340.53 L322.08,342.18 L323.41,343.96 L324.84,345.95 L326.42,348.23 L328.20,350.91 L330.17,353.92 L332.24,357.13 L334.42,360.53 L336.69,364.11 L339.04,367.88 L341.46,371.81 L343.93,375.92 L346.45,380.18 L349.01,384.60 L351.60,389.16 L354.31,394.04 L357.21,399.33 L360.23,404.93 L363.33,410.72 L366.44,416.61 L369.50,422.48 L372.47,428.24 L375.27,433.76 L377.85,438.95 L380.24,443.66 L382.39,447.93 L384.32,451.91 L386.07,455.64 L387.67,459.17 L389.14,462.54 L390.52,465.80 L391.83,469.00 L393.11,472.18 L394.38,475.39 L395.67,478.67 L396.97,482.09 L398.15,485.66 L399.31,489.28 L400.42,492.89 L401.47,496.42 L402.47,499.80 L403.38,502.98 L404.21,505.89 L404.94,508.46 L405.57,510.64 L406.06,512.40 L406.43,513.80 L406.69,514.88 L406.85,515.70 L406.95,516.32 L407.00,516.78 L407.02,517.12 L407.03,517.38 L407.04,517.61 L407.09,517.90 L403.54,518.49 L403.45,518.06 L403.39,517.58 L403.36,517.28 L403.32,517.08 L403.27,516.82 L403.15,516.38 L402.95,515.71 L402.65,514.74 L402.29,513.42 L401.80,511.70 L401.17,509.53 L400.43,506.95 L399.60,504.05 L398.68,500.89 L397.68,497.53 L396.62,494.03 L395.51,490.46 L394.36,486.89 L393.18,483.37 L391.87,480.00 L390.57,476.75 L389.28,473.56 L387.99,470.41 L386.67,467.26 L385.29,464.05 L383.81,460.74 L382.22,457.27 L380.46,453.61 L378.53,449.69 L376.37,445.48 L374.01,440.81 L371.52,435.61 L368.82,430.07 L365.95,424.29 L362.99,418.39 L359.98,412.47 L356.98,406.65 L354.05,401.02 L351.25,395.70 L348.63,390.80 L346.12,386.23 L343.65,381.80 L341.20,377.52 L338.80,373.40 L336.46,369.45 L334.18,365.67 L331.97,362.07 L329.84,358.65 L327.82,355.43 L325.90,352.41 L324.17,349.74 L322.64,347.48 L321.27,345.51 L319.99,343.76 L318.75,342.11 L317.50,340.49 L316.19,338.80 L314.78,336.96 L313.22,334.89 L311.48,332.53 L309.59,329.91 L307.57,327.14 L305.44,324.22 L303.23,321.19 L300.96,318.08 L298.66,314.91 L296.36,311.72 L294.07,308.54 L291.82,305.40 L289.64,302.32 L287.49,299.21 L285.32,296.01 L283.17,292.78 L281.03,289.54 L278.92,286.34 L276.84,283.22 L274.81,280.22 L272.83,277.37 L270.92,274.73 L269.09,272.32 L267.33,270.16 L265.63,268.18 L263.98,266.37 L262.38,264.69 L260.80,263.11 L259.23,261.60 L257.66,260.12 L256.07,258.65 L254.47,257.14 L252.84,255.59 L251.20,253.99 L249.60,252.41 L248.02,250.84 L246.47,249.31 L244.94,247.84 L243.33,246.56 L241.74,245.38 L240.20,244.32 L238.71,243.38 L237.27,242.57 L235.90,241.89 L234.58,241.33 L233.27,240.85 L231.96,240.43 L230.61,240.05 L229.19,239.70 L227.70,239.35 L226.12,238.99 L224.43,238.60 L222.70,238.18 L220.91,237.74 L218.99,237.31 L216.94,236.87 L214.83,236.43 L212.71,236.00 L210.63,235.59 L208.64,235.21 L206.81,234.85 L205.16,234.52 L203.77,234.24 L202.66,234.01 L201.76,233.82 L201.04,233.67 L200.47,233.55 L200.02,233.45 L199.67,233.38 L199.39,233.31 L199.15,233.25 L198.94,233.20 L198.71,233.15Z" fill="#80bf00" stroke="none"/>
<path d="M200.75,224.69 L200.99,224.75 L201.21,224.80 L201.45,224.86 L201.72,224.93 L202.06,225.02 L202.50,225.13 L203.05,225.27 L203.76,225.45 L204.64,225.68 L205.71,225.95 L207.04,226.28 L208.63,226.66 L210.44,227.09 L212.42,227.56 L214.50,228.07 L216.65,228.59 L218.80,229.13 L220.90,229.69 L222.91,230.24 L224.75,230.79 L226.42,231.29 L228.01,231.74 L229.59,232.18 L231.16,232.63 L232.73,233.11 L234.31,233.66 L235.90,234.29 L237.51,235.04 L239.14,235.91 L240.78,236.94 L242.42,238.12 L244.02,239.42 L245.59,240.82 L247.14,242.29 L248.69,243.82 L250.29,245.33 L251.89,246.87 L253.49,248.43 L255.09,249.99 L256.70,251.53 L258.30,253.03 L259.90,254.50 L261.50,255.97 L263.12,257.47 L264.76,259.02 L266.44,260.67 L268.16,262.43 L269.92,264.34 L271.75,266.41 L273.63,268.70 L275.59,271.21 L277.61,273.94 L279.67,276.83 L281.77,279.86 L283.90,282.99 L286.05,286.18 L288.21,289.38 L290.38,292.57 L292.54,295.69 L294.69,298.72 L296.89,301.75 L299.16,304.84 L301.47,307.98 L303.81,311.13 L306.14,314.26 L308.44,317.34 L310.69,320.34 L312.85,323.24 L314.91,325.99 L316.83,328.57 L318.56,330.87 L320.10,332.86 L321.50,334.65 L322.83,336.32 L324.12,337.96 L325.44,339.66 L326.81,341.50 L328.28,343.55 L329.91,345.90 L331.72,348.62 L333.70,351.65 L335.79,354.87 L337.98,358.30 L340.23,361.92 L342.56,365.73 L344.96,369.72 L347.41,373.87 L349.91,378.19 L352.45,382.66 L355.01,387.28 L357.69,392.21 L360.55,397.55 L363.53,403.19 L366.58,409.03 L369.64,414.96 L372.66,420.88 L375.58,426.67 L378.34,432.24 L380.88,437.48 L383.16,442.28 L385.16,446.67 L386.97,450.75 L388.60,454.57 L390.08,458.19 L391.44,461.64 L392.71,464.97 L393.91,468.23 L395.07,471.47 L396.22,474.73 L397.39,478.07 L398.58,481.55 L399.74,485.15 L400.86,488.80 L401.95,492.43 L402.97,495.98 L403.94,499.38 L404.83,502.57 L405.63,505.49 L406.34,508.07 L406.94,510.25 L407.43,512.03 L407.79,513.46 L408.05,514.58 L408.23,515.45 L408.34,516.13 L408.39,516.66 L408.42,517.06 L408.42,517.31 L408.43,517.44 L408.47,517.67 L407.09,517.90 L407.04,517.61 L407.03,517.38 L407.02,517.12 L407.00,516.78 L406.95,516.32 L406.85,515.70 L406.69,514.88 L406.43,513.80 L406.06,512.40 L405.57,510.64 L404.94,508.46 L404.21,505.89 L403.38,502.98 L402.47,499.80 L401.47,496.42 L400.42,492.89 L399.31,489.28 L398.15,485.66 L396.97,482.09 L395.67,478.67 L394.38,475.39 L393.11,472.18 L391.83,469.00 L390.52,465.80 L389.14,462.54 L387.67,459.17 L386.07,455.64 L384.32,451.91 L382.39,447.93 L380.24,443.66 L377.85,438.95 L375.27,433.76 L372.47,428.24 L369.50,422.48 L366.44,416.61 L363.33,410.72 L360.23,404.93 L357.21,399.33 L354.31,394.04 L351.60,389.16 L349.01,384.60 L346.45,380.18 L343.93,375.92 L341.46,371.81 L339.04,367.88 L336.69,364.11 L334.42,360.53 L332.24,357.13 L330.17,353.92 L328.20,350.91 L326.42,348.23 L324.84,345.95 L323.41,343.96 L322.08,342.18 L320.80,340.53 L319.52,338.91 L318.19,337.24 L316.77,335.42 L315.20,333.40 L313.45,331.07 L311.53,328.48 L309.47,325.73 L307.31,322.84 L305.06,319.83 L302.76,316.75 L300.43,313.62 L298.09,310.46 L295.76,307.31 L293.48,304.20 L291.27,301.16 L289.11,298.08 L286.95,294.91 L284.79,291.69 L282.64,288.47 L280.51,285.27 L278.41,282.15 L276.35,279.14 L274.34,276.28 L272.40,273.62 L270.52,271.18 L268.72,268.98 L266.98,266.97 L265.29,265.13 L263.65,263.43 L262.04,261.83 L260.45,260.31 L258.86,258.82 L257.27,257.35 L255.66,255.86 L254.04,254.32 L252.41,252.75 L250.81,251.17 L249.22,249.61 L247.65,248.08 L246.10,246.60 L244.48,245.27 L242.87,244.05 L241.29,242.93 L239.74,241.92 L238.23,241.04 L236.77,240.29 L235.35,239.67 L233.96,239.14 L232.57,238.68 L231.15,238.27 L229.69,237.90 L228.18,237.54 L226.60,237.17 L224.93,236.77 L223.21,236.34 L221.40,235.89 L219.46,235.44 L217.39,234.99 L215.27,234.54 L213.14,234.10 L211.05,233.69 L209.07,233.29 L207.24,232.93 L205.60,232.60 L204.22,232.31 L203.12,232.07 L202.22,231.88 L201.51,231.73 L200.94,231.61 L200.49,231.51 L200.14,231.43 L199.86,231.37 L199.63,231.31 L199.41,231.26 L199.18,231.20Z" fill="#80bf00" stroke="none"/>
<path d="M200.89,224.11 L201.13,224.16 L201.36,224.22 L201.59,224.28 L201.86,224.35 L202.20,224.43 L202.64,224.55 L203.19,224.69 L203.90,224.88 L204.78,225.10 L205.85,225.38 L207.17,225.71 L208.76,226.10 L210.57,226.53 L212.54,227.01 L214.63,227.51 L216.77,228.05 L218.93,228.60 L221.04,229.16 L223.05,229.72 L224.90,230.28 L226.56,230.78 L228.15,231.23 L229.72,231.68 L231.30,232.13 L232.88,232.63 L234.47,233.18 L236.09,233.83 L237.72,234.59 L239.37,235.49 L241.03,236.54 L242.68,237.75 L244.29,239.07 L245.87,240.49 L247.42,241.98 L248.96,243.52 L250.57,245.04 L252.17,246.58 L253.77,248.14 L255.37,249.70 L256.98,251.24 L258.58,252.74 L260.17,254.21 L261.77,255.68 L263.39,257.18 L265.04,258.74 L266.72,260.39 L268.45,262.15 L270.22,264.07 L272.05,266.16 L273.95,268.45 L275.91,270.97 L277.93,273.70 L279.99,276.60 L282.10,279.64 L284.23,282.77 L286.38,285.95 L288.54,289.16 L290.71,292.34 L292.87,295.46 L295.02,298.49 L297.20,301.52 L299.47,304.62 L301.77,307.76 L304.10,310.92 L306.42,314.05 L308.71,317.14 L310.95,320.15 L313.11,323.05 L315.16,325.81 L317.07,328.39 L318.79,330.69 L320.32,332.69 L321.72,334.48 L323.04,336.15 L324.34,337.80 L325.65,339.50 L327.02,341.35 L328.49,343.40 L330.11,345.76 L331.92,348.49 L333.89,351.53 L335.97,354.76 L338.15,358.19 L340.41,361.81 L342.75,365.62 L345.16,369.60 L347.63,373.75 L350.14,378.06 L352.69,382.52 L355.27,387.14 L357.96,392.06 L360.83,397.39 L363.83,403.03 L366.90,408.86 L369.98,414.79 L373.01,420.70 L375.94,426.49 L378.72,432.05 L381.29,437.29 L383.52,442.11 L385.47,446.53 L387.22,450.64 L388.79,454.49 L390.22,458.13 L391.54,461.60 L392.76,464.95 L393.91,468.23 L395.02,471.49 L396.13,474.76 L397.25,478.12 L398.39,481.62 L399.55,485.22 L400.67,488.86 L401.75,492.49 L402.78,496.03 L403.75,499.43 L404.63,502.62 L405.44,505.54 L406.15,508.12 L406.75,510.31 L407.24,512.09 L407.60,513.51 L407.86,514.62 L408.03,515.48 L408.14,516.16 L408.20,516.68 L408.22,517.07 L408.22,517.32 L408.23,517.46 L408.28,517.71 L405.81,518.11 L405.75,517.77 L405.73,517.46 L405.72,517.18 L405.70,516.89 L405.66,516.49 L405.57,515.94 L405.42,515.16 L405.17,514.11 L404.81,512.74 L404.32,510.99 L403.70,508.81 L402.97,506.24 L402.15,503.33 L401.24,500.15 L400.25,496.77 L399.20,493.25 L398.10,489.66 L396.96,486.05 L395.78,482.49 L394.58,479.05 L393.38,475.74 L392.21,472.50 L391.02,469.30 L389.80,466.07 L388.52,462.78 L387.15,459.38 L385.65,455.82 L384.00,452.05 L382.18,448.03 L380.15,443.70 L377.85,438.95 L375.27,433.76 L372.47,428.24 L369.50,422.48 L366.44,416.61 L363.33,410.72 L360.23,404.93 L357.21,399.33 L354.31,394.04 L351.60,389.16 L349.01,384.60 L346.45,380.18 L343.93,375.92 L341.46,371.81 L339.04,367.88 L336.69,364.11 L334.42,360.53 L332.24,357.13 L330.17,353.92 L328.20,350.91 L326.42,348.23 L324.84,345.95 L323.41,343.96 L322.08,342.18 L320.80,340.53 L319.52,338.91 L318.19,337.24 L316.77,335.42 L315.20,333.40 L313.45,331.07 L311.53,328.48 L309.47,325.73 L307.31,322.84 L305.06,319.83 L302.76,316.75 L300.43,313.62 L298.09,310.46 L295.76,307.31 L293.48,304.20 L291.27,301.16 L289.11,298.08 L286.95,294.91 L284.79,291.69 L282.64,288.47 L280.51,285.27 L278.41,282.15 L276.35,279.14 L274.34,276.28 L272.40,273.62 L270.52,271.18 L268.72,268.98 L266.98,266.97 L265.29,265.13 L263.65,263.43 L262.04,261.83 L260.45,260.31 L258.86,258.82 L257.27,257.35 L255.66,255.86 L254.04,254.32 L252.41,252.75 L250.81,251.17 L249.22,249.61 L247.65,248.08 L246.10,246.60 L244.48,245.27 L242.87,244.05 L241.29,242.93 L239.74,241.92 L238.23,241.04 L236.77,240.29 L235.35,239.67 L233.96,239.14 L232.57,238.68 L231.15,238.27 L229.69,237.90 L228.18,237.54 L226.60,237.17 L224.93,236.77 L223.21,236.34 L221.40,235.89 L219.46,235.44 L217.39,234.99 L215.27,234.54 L213.14,234.10 L211.05,233.69 L209.07,233.29 L207.24,232.93 L205.60,232.60 L204.22,232.31 L203.12,232.07 L202.22,231.88 L201.51,231.73 L200.94,231.61 L200.49,231.51 L200.14,231.43 L199.86,231.37 L199.63,231.31 L199.41,231.26 L199.18,231.20Z" fill="#e04c4c" stroke="none"/>
<path d="M399,517 L412,519 L405,512 Z" fill="#80bf00"/>
<path d="M897.00,236.00 L897.05,236.36 L897.10,236.03 L897.15,235.57 L897.22,235.50 L897.32,236.37 L897.48,238.72 L897.70,243.08 L898.00,250.00 L898.40,260.41 L898.89,274.19 L899.45,290.31 L900.06,307.75 L900.70,325.47 L901.33,342.44 L901.94,357.62 L902.50,370.00 L902.97,379.26 L903.35,386.25 L903.69,391.68 L904.03,396.25 L904.44,400.66 L904.95,405.62 L905.62,411.84 L906.50,420.00 L907.68,430.56 L909.14,443.03 L910.79,456.74 L912.53,471.00 L914.27,485.14 L915.91,498.47 L917.35,510.32 L918.50,520.00 L919.30,527.03 L919.83,531.85 L920.17,535.17 L920.41,537.69 L920.62,540.12 L920.90,543.18 L921.33,547.57 L922.00,554.00 L922.96,563.04 L924.16,574.26 L925.51,586.86 L926.92,600.06 L928.31,613.07 L929.60,625.09 L930.69,635.33 L931.50,643.00 L932.02,648.01 L932.33,651.09 L932.47,652.63 L932.49,653.06 L932.44,652.80 L932.36,652.26 L932.30,651.85 L932.30,652.00" stroke="#80bf00" stroke-width="9.50" stroke-linejoin="round"/>
<path d="M897.00,236.00 L897.05,236.36 L897.10,236.03 L897.15,235.57 L897.22,235.50 L897.32,236.37 L897.48,238.72 L897.70,243.08 L898.00,250.00 L898.40,260.41 L898.89,274.19 L899.45,290.31 L900.06,307.75 L900.70,325.47 L901.33,342.44 L901.94,357.62 L902.50,370.00 L902.97,379.26 L903.35,386.25 L903.69,391.68 L904.03,396.25 L904.44,400.66 L904.95,405.62 L905.62,411.84 L906.50,420.00 L907.68,430.56 L909.14,443.03 L910.79,456.74 L912.53,471.00 L914.27,485.14 L915.91,498.47 L917.35,510.32 L918.50,520.00 L919.30,527.03 L919.83,531.85 L920.17,535.17 L920.41,537.69 L920.62,540.12 L920.90,543.18 L921.33,547.57 L922.00,554.00 L922.96,563.04 L924.16,574.26 L925.51,586.86 L926.92,600.06 L928.31,613.07 L929.60,625.09 L930.69,635.33 L931.50,643.00 L932.02,648.01 L932.33,651.09 L932.47,652.63 L932.49,653.06 L932.44,652.80 L932.36,652.26 L932.30,651.85 L932.30,652.00" stroke="#e04c4c" stroke-width="3.20" stroke-linejoin="round"/>
<path d="M889.80,242.00 L891.25,240.28 L893.21,237.98 L895.54,235.23 L898.12,232.19 L900.81,229.00 L903.49,225.80 L906.03,222.76 L908.30,220.00 L910.36,217.46 L912.38,214.98 L914.34,212.55 L916.25,210.16 L918.09,207.81 L919.87,205.50 L921.57,203.23 L923.20,201.00 L924.77,198.74 L926.31,196.42 L927.78,194.10 L929.19,191.84 L930.50,189.70 L931.70,187.72 L932.77,185.97 L933.70,184.50 L934.46,183.33 L935.07,182.43 L935.54,181.74 L935.91,181.22 L936.19,180.83 L936.42,180.53 L936.61,180.27 L936.80,180.00" stroke="#a8c830" stroke-width="8.00" stroke-linejoin="round"/>
<path d="M888.27,240.71 L889.73,238.99 L891.68,236.68 L894.02,233.94 L896.59,230.90 L899.28,227.71 L901.96,224.52 L904.49,221.48 L906.75,218.73 L908.81,216.20 L910.83,213.72 L912.78,211.29 L914.68,208.91 L916.51,206.58 L918.28,204.29 L919.96,202.05 L921.57,199.84 L923.12,197.61 L924.63,195.33 L926.09,193.04 L927.48,190.79 L928.79,188.66 L929.99,186.68 L931.07,184.92 L932.02,183.42 L932.79,182.23 L933.41,181.31 L933.90,180.59 L934.28,180.05 L934.58,179.64 L934.81,179.33 L934.99,179.09 L935.17,178.84" stroke="#80bf00" stroke-width="4.00" stroke-linejoin="round"/>
<path d="M890.95,242.97 L892.40,241.25 L894.35,238.95 L896.68,236.20 L899.26,233.16 L901.96,229.96 L904.65,226.77 L907.19,223.71 L909.46,220.95 L911.53,218.41 L913.55,215.92 L915.51,213.48 L917.43,211.09 L919.28,208.73 L921.06,206.41 L922.78,204.13 L924.42,201.87 L926.02,199.58 L927.57,197.24 L929.05,194.90 L930.46,192.63 L931.78,190.48 L932.98,188.50 L934.05,186.76 L934.96,185.31 L935.71,184.16 L936.31,183.27 L936.77,182.59 L937.12,182.09 L937.40,181.72 L937.62,181.42 L937.82,181.15 L938.02,180.87" stroke="#e04c4c" stroke-width="4.80" stroke-linejoin="round"/>
<path d="M872.6,249.4 L877,246 L884,244.5 L891.6,242.5 L893,246.7 L873.5,255.5 Z" fill="#80bf00"/>
<path d="M880,237.8 L894.7,234.1 L900,236.7 L897.9,247.3 L891.6,243.6 L882.6,245.2 L881,241 Z" fill="#e04c4c"/>
<ellipse cx="353" cy="552.5" rx="2.8" ry="2.5" fill="#80bf00"/>
<path d="M785,645 L785,634 L789,631.5 L794,632 L797,636 L803.5,638 L803,643 L797,645 Z" fill="#80bf00"/>
<rect x="948" y="616" width="4.5" height="28" fill="#00c8dc"/>
</g></g>
<g stroke="#000" stroke-width="1.2">
<line x1="196.2" y1="645.70" x2="205.5" y2="645.70"/>
<line x1="201.2" y1="638.74" x2="205.5" y2="638.74"/>
<line x1="201.2" y1="631.78" x2="205.5" y2="631.78"/>
<line x1="201.2" y1="624.82" x2="205.5" y2="624.82"/>
<line x1="201.2" y1="617.86" x2="205.5" y2="617.86"/>
<line x1="201.2" y1="610.90" x2="205.5" y2="610.90"/>
<line x1="201.2" y1="603.94" x2="205.5" y2="603.94"/>
<line x1="201.2" y1="596.98" x2="205.5" y2="596.98"/>
<line x1="201.2" y1="590.02" x2="205.5" y2="590.02"/>
<line x1="201.2" y1="583.06" x2="205.5" y2="583.06"/>
<line x1="196.2" y1="576.10" x2="205.5" y2="576.10"/>
<line x1="201.2" y1="569.14" x2="205.5" y2="569.14"/>
<line x1="201.2" y1="562.18" x2="205.5" y2="562.18"/>
<line x1="201.2" y1="555.22" x2="205.5" y2="555.22"/>
<line x1="201.2" y1="548.26" x2="205.5" y2="548.26"/>
<line x1="201.2" y1="541.30" x2="205.5" y2="541.30"/>
<line x1="201.2" y1="534.34" x2="205.5" y2="534.34"/>
<line x1="201.2" y1="527.38" x2="205.5" y2="527.38"/>
<line x1="201.2" y1="520.42" x2="205.5" y2="520.42"/>
<line x1="201.2" y1="513.46" x2="205.5" y2="513.46"/>
<line x1="196.2" y1="506.50" x2="205.5" y2="506.50"/>
<line x1="201.2" y1="499.54" x2="205.5" y2="499.54"/>
<line x1="201.2" y1="492.58" x2="205.5" y2="492.58"/>
<line x1="201.2" y1="485.62" x2="205.5" y2="485.62"/>
<line x1="201.2" y1="478.66" x2="205.5" y2="478.66"/>
<line x1="201.2" y1="471.70" x2="205.5" y2="471.70"/>
<line x1="201.2" y1="464.74" x2="205.5" y2="464.74"/>
<line x1="201.2" y1="457.78" x2="205.5" y2="457.78"/>
<line x1="201.2" y1="450.82" x2="205.5" y2="450.82"/>
<line x1="201.2" y1="443.86" x2="205.5" y2="443.86"/>
<line x1="196.2" y1="436.90" x2="205.5" y2="436.90"/>
<line x1="201.2" y1="429.94" x2="205.5" y2="429.94"/>
<line x1="201.2" y1="422.98" x2="205.5" y2="422.98"/>
<line x1="201.2" y1="416.02" x2="205.5" y2="416.02"/>
<line x1="201.2" y1="409.06" x2="205.5" y2="409.06"/>
<line x1="201.2" y1="402.10" x2="205.5" y2="402.10"/>
<line x1="201.2" y1="395.14" x2="205.5" y2="395.14"/>
<line x1="201.2" y1="388.18" x2="205.5" y2="388.18"/>
<line x1="201.2" y1="381.22" x2="205.5" y2="381.22"/>
<line x1="201.2" y1="374.26" x2="205.5" y2="374.26"/>
<line x1="196.2" y1="367.30" x2="205.5" y2="367.30"/>
<line x1="201.2" y1="360.34" x2="205.5" y2="360.34"/>
<line x1="201.2" y1="353.38" x2="205.5" y2="353.38"/>
<line x1="201.2" y1="346.42" x2="205.5" y2="346.42"/>
<line x1="201.2" y1="339.46" x2="205.5" y2="339.46"/>
<line x1="201.2" y1="332.50" x2="205.5" y2="332.50"/>
<line x1="201.2" y1="325.54" x2="205.5" y2="325.54"/>
<line x1="201.2" y1="318.58" x2="205.5" y2="318.58"/>
<line x1="201.2" y1="311.62" x2="205.5" y2="311.62"/>
<line x1="201.2" y1="304.66" x2="205.5" y2="304.66"/>
<line x1="196.2" y1="297.70" x2="205.5" y2="297.70"/>
<line x1="201.2" y1="290.74" x2="205.5" y2="290.74"/>
<line x1="201.2" y1="283.78" x2="205.5" y2="283.78"/>
<line x1="201.2" y1="276.82" x2="205.5" y2="276.82"/>
<line x1="201.2" y1="269.86" x2="205.5" y2="269.86"/>
<line x1="201.2" y1="262.90" x2="205.5" y2="262.90"/>
<line x1="201.2" y1="255.94" x2="205.5" y2="255.94"/>
<line x1="201.2" y1="248.98" x2="205.5" y2="248.98"/>
<line x1="201.2" y1="242.02" x2="205.5" y2="242.02"/>
<line x1="201.2" y1="235.06" x2="205.5" y2="235.06"/>
<line x1="196.2" y1="228.10" x2="205.5" y2="228.10"/>
<line x1="201.2" y1="221.14" x2="205.5" y2="221.14"/>
<line x1="201.2" y1="214.18" x2="205.5" y2="214.18"/>
<line x1="201.2" y1="207.22" x2="205.5" y2="207.22"/>
<line x1="201.2" y1="200.26" x2="205.5" y2="200.26"/>
<line x1="201.2" y1="193.30" x2="205.5" y2="193.30"/>
<line x1="201.2" y1="186.34" x2="205.5" y2="186.34"/>
<line x1="221.20" y1="645.5" x2="221.20" y2="650.0"/>
<line x1="238.60" y1="645.5" x2="238.60" y2="650.0"/>
<line x1="256.00" y1="645.5" x2="256.00" y2="650.0"/>
<line x1="273.40" y1="645.5" x2="273.40" y2="655.5"/>
<line x1="290.80" y1="645.5" x2="290.80" y2="650.0"/>
<line x1="308.20" y1="645.5" x2="308.20" y2="650.0"/>
<line x1="325.60" y1="645.5" x2="325.60" y2="650.0"/>
<line x1="343.00" y1="645.5" x2="343.00" y2="650.0"/>
<line x1="360.40" y1="645.5" x2="360.40" y2="650.0"/>
<line x1="377.80" y1="645.5" x2="377.80" y2="650.0"/>
<line x1="395.20" y1="645.5" x2="395.20" y2="650.0"/>
<line x1="412.60" y1="645.5" x2="412.60" y2="650.0"/>
<line x1="430.00" y1="645.5" x2="430.00" y2="650.0"/>
<line x1="447.40" y1="645.5" x2="447.40" y2="655.5"/>
<line x1="464.80" y1="645.5" x2="464.80" y2="650.0"/>
<line x1="482.20" y1="645.5" x2="482.20" y2="650.0"/>
<line x1="499.60" y1="645.5" x2="499.60" y2="650.0"/>
<line x1="517.00" y1="645.5" x2="517.00" y2="650.0"/>
<line x1="534.40" y1="645.5" x2="534.40" y2="650.0"/>
<line x1="551.80" y1="645.5" x2="551.80" y2="650.0"/>
<line x1="569.20" y1="645.5" x2="569.20" y2="650.0"/>
<line x1="586.60" y1="645.5" x2="586.60" y2="650.0"/>
<line x1="604.00" y1="645.5" x2="604.00" y2="650.0"/>
<line x1="621.40" y1="645.5" x2="621.40" y2="655.5"/>
<line x1="638.80" y1="645.5" x2="638.80" y2="650.0"/>
<line x1="656.20" y1="645.5" x2="656.20" y2="650.0"/>
<line x1="673.60" y1="645.5" x2="673.60" y2="650.0"/>
<line x1="691.00" y1="645.5" x2="691.00" y2="650.0"/>
<line x1="708.40" y1="645.5" x2="708.40" y2="650.0"/>
<line x1="725.80" y1="645.5" x2="725.80" y2="650.0"/>
<line x1="743.20" y1="645.5" x2="743.20" y2="650.0"/>
<line x1="760.60" y1="645.5" x2="760.60" y2="650.0"/>
<line x1="778.00" y1="645.5" x2="778.00" y2="650.0"/>
<line x1="795.40" y1="645.5" x2="795.40" y2="655.5"/>
<line x1="812.80" y1="645.5" x2="812.80" y2="650.0"/>
<line x1="830.20" y1="645.5" x2="830.20" y2="650.0"/>
<line x1="847.60" y1="645.5" x2="847.60" y2="650.0"/>
<line x1="865.00" y1="645.5" x2="865.00" y2="650.0"/>
<line x1="882.40" y1="645.5" x2="882.40" y2="650.0"/>
<line x1="899.80" y1="645.5" x2="899.80" y2="650.0"/>
<line x1="917.20" y1="645.5" x2="917.20" y2="650.0"/>
<line x1="934.60" y1="645.5" x2="934.60" y2="650.0"/>
<line x1="952.00" y1="645.5" x2="952.00" y2="650.0"/>
<line x1="969.40" y1="645.5" x2="969.40" y2="655.5"/>
</g>
<rect x="205.5" y="183.5" width="766.5" height="462" fill="none" stroke="#000" stroke-width="1.3"/>
</svg>
</body></html>
